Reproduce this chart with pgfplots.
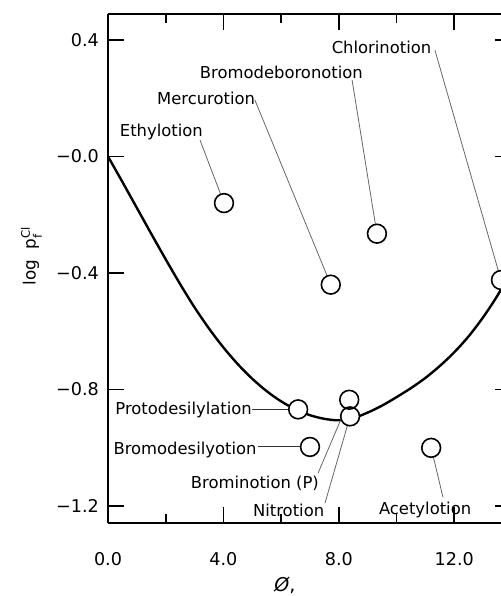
\documentclass[border=0pt]{standalone}
\usepackage{amsmath}
\usepackage{fontspec}
\setmainfont{DejaVu Sans}
\usepackage{pgfplots}
\pgfplotsset{compat=1.18}
\tikzset{lbl/.style={font=\fontsize{8.2}{9}\selectfont, inner sep=1pt},
         lead/.style={black!60, line width=0.4pt}}
\begin{document}
\begin{tikzpicture}
\path[use as bounding box] (-54pt,-36.5pt) rectangle (196.5pt,261.5pt);
\begin{axis}[
  scale only axis, width=196.5pt, height=254.5pt,
  xmin=0, xmax=13.62, ymin=-1.258, ymax=0.489,
  axis x line*=box, axis y line*=left,
  xtick={0,4,8,12}, xticklabels={0.0,4.0,8.0,12.0},
  minor xtick={2,6,10},
  ytick={-1.2,-0.8,-0.4,0,0.4},
  yticklabels={−1.2,−0.8,−0.4,−0.0,0.4},
  major tick length=8pt, minor tick length=4.5pt,
  tick style={black, line width=0.8pt},
  axis line style={line width=0.9pt},
  ticklabel style={font=\fontsize{8.8}{10}\selectfont},
  xticklabel shift=11pt, yticklabel shift=1pt,
  xlabel={\textit{Ø},}, ylabel={log\ \ p$_{\text{f}}^{\text{Cl}}$},
  xlabel style={at={(axis description cs:0.45,-0.122)}, anchor=center, font=\fontsize{9.5}{10}\selectfont},
  ylabel style={at={(axis description cs:-0.195,0.525)}, anchor=center, font=\fontsize{8.4}{9}\selectfont},
]
\addplot[smooth, line width=1.2pt, black] coordinates {
(0,0) (0.5,-0.0875) (1,-0.1765) (1.5,-0.2655) (2,-0.353) (2.5,-0.438) (3,-0.518)
(3.5,-0.5905) (4,-0.6555) (4.5,-0.713) (5,-0.763) (5.5,-0.8055) (6,-0.8405)
(6.5,-0.868) (7,-0.888) (7.5,-0.9005) (8,-0.9055) (8.5,-0.898) (9,-0.879)
(9.5,-0.855) (10,-0.826) (10.5,-0.795) (11,-0.760) (11.5,-0.719) (12,-0.672)
(12.5,-0.617) (13,-0.552) (13.5,-0.477) (14,-0.39)};
% right-hand tick stubs (spine lies just beyond the picture)
\draw[line width=0.8pt] (axis cs:13.41,0.4) -- (axis cs:13.62,0.4);
\draw[line width=0.8pt] (axis cs:13.41,0) -- (axis cs:13.62,0);
\draw[line width=0.8pt] (axis cs:13.41,-0.4) -- (axis cs:13.62,-0.4);
\draw[line width=0.8pt] (axis cs:13.41,-0.8) -- (axis cs:13.62,-0.8);
\draw[line width=0.8pt] (axis cs:13.41,-1.2) -- (axis cs:13.62,-1.2);
% leader lines
\draw[lead] (axis cs:3.19,0.056) -- (axis cs:4.02,-0.16);
\draw[lead] (axis cs:5.09,0.194) -- (axis cs:7.72,-0.44);
\draw[lead] (axis cs:8.46,0.262) -- (axis cs:9.32,-0.265);
\draw[lead] (axis cs:11.33,0.365) -- (axis cs:13.62,-0.424);
\draw[black!80, line width=0.5pt] (axis cs:5.0,-0.868) -- (axis cs:6.59,-0.868);
\draw[black!80, line width=0.5pt] (axis cs:5.2,-0.997) -- (axis cs:7.0,-0.997);
\draw[lead] (axis cs:7.28,-1.087) -- (axis cs:8.36,-0.835);
\draw[lead] (axis cs:7.52,-1.19) -- (axis cs:8.39,-0.892);
\draw[lead] (axis cs:11.61,-1.17) -- (axis cs:11.2,-1.0);
% circles
\addplot[only marks, mark=*, mark size=4.7pt, mark options={fill=white, draw=white}] coordinates {
(4.02,-0.16) (7.72,-0.44) (9.32,-0.265) (13.62,-0.424) (6.59,-0.868)
(7.0,-0.997) (8.36,-0.835) (8.39,-0.892) (11.2,-1.0)};
\addplot[only marks, mark=o, mark size=4.7pt, mark options={line width=0.8pt, black}] coordinates {
(4.02,-0.16) (7.72,-0.44) (9.32,-0.265) (13.62,-0.424) (6.59,-0.868)
(7.0,-0.997) (8.36,-0.835) (8.39,-0.892) (11.2,-1.0)};
% labels
\node[lbl] at (axis cs:9.48,0.376) {Chlorinotion};
\node[lbl] at (axis cs:6.01,0.290) {Bromodeboronotion};
\node[lbl] at (axis cs:3.40,0.201) {Mercurotion};
\node[lbl] at (axis cs:1.85,0.084) {Ethylotion};
\node[lbl] at (axis cs:2.62,-0.871) {Protodesilylation};
\node[lbl] at (axis cs:2.67,-1.008) {Bromodesilyotion};
\node[lbl] at (axis cs:5.09,-1.121) {Brominotion (P)};
\node[lbl] at (axis cs:6.26,-1.214) {Nitrotion};
\node[lbl] at (axis cs:10.99,-1.214) {Acetylotion};
\end{axis}
\end{tikzpicture}
\end{document}
